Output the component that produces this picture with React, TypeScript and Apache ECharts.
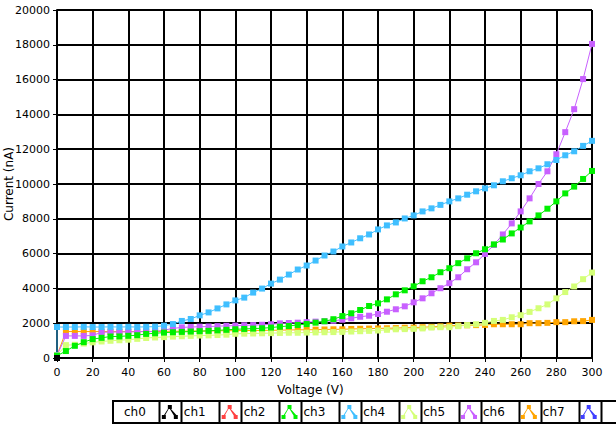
import React, { useEffect, useRef } from 'react';
import * as echarts from 'echarts';

const voltage = [0, 5, 10, 15, 20, 25, 30, 35, 40, 45, 50, 55, 60, 65, 70, 75, 80, 85, 90, 95, 100, 105, 110, 115, 120, 125, 130, 135, 140, 145, 150, 155, 160, 165, 170, 175, 180, 185, 190, 195, 200, 205, 210, 215, 220, 225, 230, 235, 240, 245, 250, 255, 260, 265, 270, 275, 280, 285, 290, 295, 300];

const xTicks = [0, 20, 40, 60, 80, 100, 120, 140, 160, 180, 200, 220, 240, 260, 280, 300];
const yTicks = [0, 2000, 4000, 6000, 8000, 10000, 12000, 14000, 16000, 18000, 20000];

const ch0 = [0];
const ch1: number[] = [];
const ch2 = [130, 400, 700, 910, 1085, 1160, 1235, 1240, 1275, 1310, 1385, 1420, 1460, 1480, 1500, 1520, 1540, 1560, 1590, 1620, 1650, 1670, 1690, 1710, 1750, 1800, 1840, 1900, 1950, 2030, 2110, 2230, 2410, 2570, 2760, 2990, 3140, 3370, 3660, 3890, 4120, 4410, 4640, 4930, 5160, 5450, 5730, 6020, 6250, 6530, 6810, 7160, 7500, 7850, 8195, 8580, 9000, 9460, 9850, 10290, 10750];
const ch3Origin = 120;
const ch3 = [1780, 1780, 1780, 1790, 1780, 1780, 1790, 1780, 1790, 1780, 1790, 1800, 1860, 1950, 2130, 2240, 2450, 2620, 2850, 3080, 3310, 3470, 3760, 3990, 4275, 4505, 4795, 5085, 5315, 5600, 5890, 6120, 6410, 6640, 6880, 7100, 7390, 7620, 7790, 8020, 8195, 8425, 8600, 8800, 9000, 9175, 9385, 9580, 9750, 9925, 10155, 10330, 10500, 10730, 10900, 11135, 11380, 11650, 11880, 12190, 12480];
const ch4 = [150, 740, 760, 830, 900, 950, 990, 1020, 1050, 1100, 1150, 1180, 1200, 1230, 1250, 1270, 1290, 1300, 1320, 1340, 1390, 1400, 1410, 1420, 1430, 1440, 1450, 1450, 1460, 1470, 1480, 1490, 1500, 1520, 1540, 1560, 1580, 1620, 1650, 1660, 1675, 1700, 1750, 1770, 1770, 1830, 1890, 1940, 2020, 2130, 2190, 2340, 2460, 2650, 2860, 3080, 3430, 3790, 4110, 4530, 4910];
const ch5 = [150, 1270, 1270, 1270, 1300, 1480, 1490, 1500, 1500, 1510, 1520, 1530, 1600, 1700, 1760, 1780, 1800, 1810, 1830, 1850, 1860, 1880, 1890, 1910, 1940, 1990, 2010, 2030, 2060, 2090, 2110, 2140, 2200, 2280, 2370, 2430, 2530, 2660, 2800, 2970, 3200, 3430, 3720, 4010, 4300, 4640, 5100, 5500, 5980, 6500, 7100, 7735, 8425, 9175, 10000, 10730, 11710, 12980, 14300, 16030, 18050];
const ch6 = [150, 1520, 1520, 1520, 1520, 1520, 1520, 1520, 1520, 1520, 1520, 1520, 1530, 1540, 1540, 1550, 1550, 1560, 1560, 1570, 1570, 1580, 1580, 1590, 1590, 1600, 1610, 1620, 1620, 1630, 1640, 1650, 1650, 1670, 1680, 1690, 1700, 1710, 1720, 1740, 1750, 1770, 1790, 1820, 1860, 1870, 1880, 1890, 1900, 1940, 1940, 1940, 1940, 2000, 2000, 2020, 2060, 2060, 2110, 2120, 2190];
const ch7: number[] = [];

const names = ['ch0', 'ch1', 'ch2', 'ch3', 'ch4', 'ch5', 'ch6', 'ch7'];
const colors = ['#000000', '#FF4040', '#00F000', '#40BFFF', '#D4FF78', '#C860FF', '#FFA500', '#4040FF'];

const FONT = 'DejaVu Sans';
const ICON = 'path://M6,0L10,0L10,4L9.2,4L14.6,10L16,10L16,14L12,14L12,10.6L8,4L6.8,4L3.4,10L4,10L4,14L0,14L0,10L2.2,10L6,4Z';

export default function App() {
  const ref = useRef<HTMLDivElement>(null);
  useEffect(() => {
    const chart = echarts.init(ref.current!, null, { renderer: 'svg' });
    const pairs = (vals: number[]) => vals.map((v, i) => [voltage[i], v]);
    const seriesData = [
      pairs(ch0),
      pairs(ch1),
      pairs(ch2),
      [[0, ch3Origin], ...pairs(ch3)],
      pairs(ch4),
      pairs(ch5),
      pairs(ch6),
      pairs(ch7),
    ];

    // legend cell frame
    const bounds: number[] = [112];
    for (let k = 0; k < 8; k++) {
      bounds.push(159.5 + 60 * k);
      bounds.push(181.5 + 60 * k);
    }
    bounds.push(616);
    const cells: any[] = [
      { type: 'rect', shape: { x: 112, y: 400, width: 504, height: 24 }, style: { fill: '#000' }, silent: true },
    ];
    for (let i = 0; i < bounds.length - 1; i++) {
      const x0 = i === 0 ? bounds[i] + 2 : bounds[i] + 1;
      const x1 = i === bounds.length - 2 ? bounds[i + 1] : bounds[i + 1] - 1;
      cells.push({
        type: 'rect',
        shape: { x: x0, y: 402, width: x1 - x0, height: 20 },
        style: { fill: '#fff' },
        silent: true,
      });
    }

    chart.setOption({
      animation: false,
      backgroundColor: '#fff',
      textStyle: { fontFamily: FONT },
      grid: { left: 57, right: 24, top: 10, bottom: 66, containLabel: false, outerBoundsMode: 'none' },
      graphic: { elements: cells },
      legend: {
        left: 124,
        top: 405,
        orient: 'horizontal',
        align: 'right',
        itemGap: 6,
        itemWidth: 16,
        itemHeight: 14,
        padding: 0,
        selectedMode: false,
        icon: ICON,
        data: names,
        textStyle: {
          fontFamily: FONT,
          fontSize: 12,
          color: '#000',
          padding: [0, 11, 0, 0],
        },
      },
      xAxis: {
        type: 'value',
        min: xTicks[0],
        max: xTicks[xTicks.length - 1],
        interval: 20,
        name: 'Voltage (V)',
        nameLocation: 'middle',
        nameGap: 26,
        nameMoveOverlap: false,
        nameTextStyle: { fontSize: 12, color: '#000', fontFamily: FONT, padding: [0, 28, 0, 0] },
        axisLine: { show: true, lineStyle: { color: '#000', width: 2 } },
        axisTick: { show: true, inside: false, length: 4, lineStyle: { color: '#000' } },
        axisLabel: { color: '#000', fontSize: 11, margin: 9, fontFamily: FONT, formatter: (v: number) => String(v) },
        splitLine: { show: true, lineStyle: { color: '#000', width: 2 } },
      },
      yAxis: {
        type: 'value',
        min: yTicks[0],
        max: yTicks[yTicks.length - 1],
        interval: 2000,
        name: 'Current (nA)',
        nameLocation: 'middle',
        nameGap: 42,
        nameMoveOverlap: false,
        nameTextStyle: { fontSize: 12, color: '#000', fontFamily: FONT },
        axisLine: { show: true, lineStyle: { color: '#000', width: 2 } },
        axisTick: { show: true, inside: false, length: 4, lineStyle: { color: '#000' } },
        axisLabel: { color: '#000', fontSize: 11, margin: 7, fontFamily: FONT, formatter: (v: number) => String(v) },
        splitLine: { show: true, lineStyle: { color: '#000', width: 2 } },
      },
      series: names.map((n, i) => ({
        name: n,
        type: 'line',
        data: seriesData[i],
        z: 20 - i,
        symbol: 'rect',
        symbolSize: 6,
        showSymbol: true,
        showAllSymbol: true,
        silent: true,
        clip: true,
        color: colors[i],
        itemStyle: { color: colors[i] },
        lineStyle: { color: colors[i], width: 1 },
        emphasis: { disabled: true },
      })),
    });
    return () => chart.dispose();
  }, []);
  return (
    <div
      ref={ref}
      style={{ position: 'fixed', left: 0, top: 0, width: 616, height: 424, background: '#fff' }}
    />
  );
}
